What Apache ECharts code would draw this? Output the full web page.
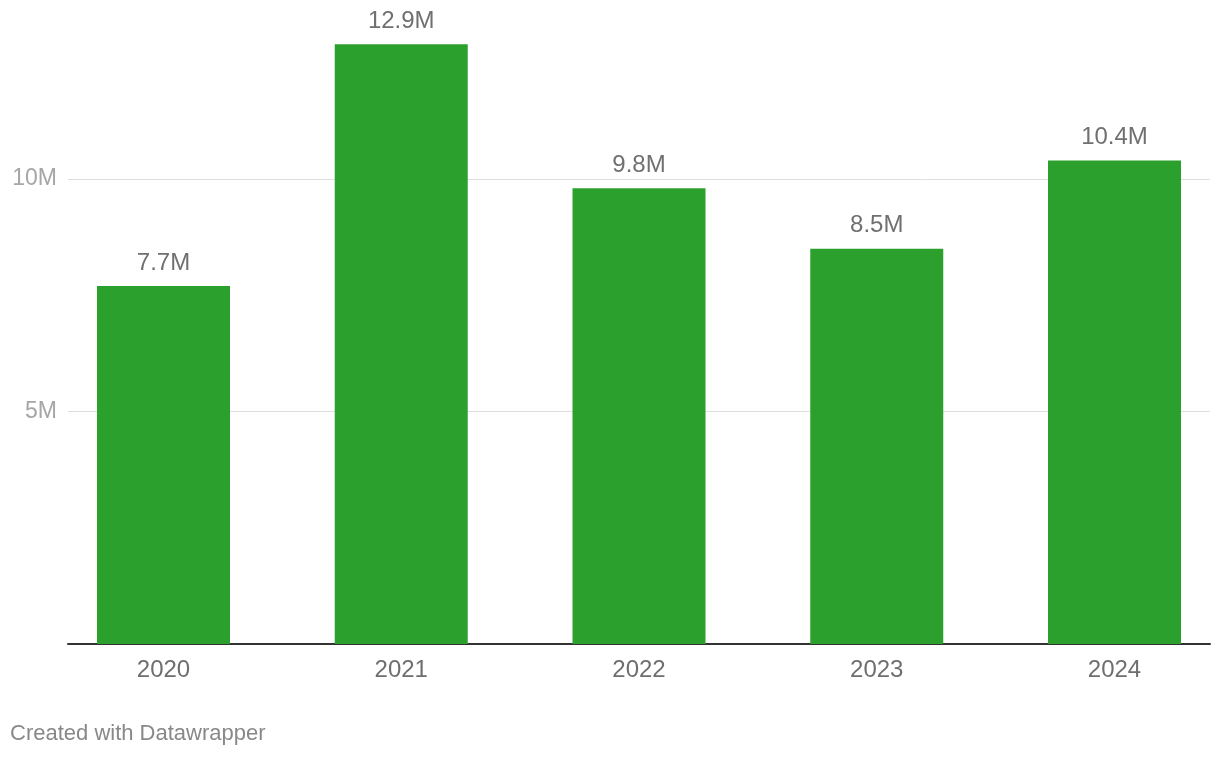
<!DOCTYPE html>
<html>
<head>
<meta charset="utf-8">
<script src="https://cdn.jsdelivr.net/npm/echarts@6/dist/echarts.min.js"></script>
<style>
html,body{margin:0;padding:0;background:#fff;}
#chart{width:1220px;height:758px;}
</style>
</head>
<body>
<div id="chart"></div>
<script>
const categories = ['2020', '2021', '2022', '2023', '2024'];
const values = [7.7, 12.9, 9.8, 8.5, 10.4];
const yTicks = [0, 5, 10];
const footer = 'Created with Datawrapper';

const FONT = '"Liberation Sans", Arial, Helvetica, sans-serif';
const chart = echarts.init(document.getElementById('chart'), null, {renderer: 'canvas'});

const yMax = 13;
const plotBottom = 114;
const pxPerUnit = 46.5;
const gridTop = 758 - plotBottom - yMax * pxPerUnit;

chart.setOption({
  backgroundColor: '#fff',
  animation: false,
  grid: [
    {left: 68, right: 10, top: gridTop, bottom: plotBottom, containLabel: false},
    {left: 163.5, right: 105.5, top: gridTop, bottom: plotBottom, containLabel: false}
  ],
  xAxis: [
    {
      gridIndex: 0, type: 'category', data: categories,
      axisLine: {show: true, lineStyle: {color: '#333', width: 2}},
      axisTick: {show: false}, axisLabel: {show: false}, splitLine: {show: false}
    },
    {
      gridIndex: 1, type: 'category', data: categories, boundaryGap: false,
      axisLine: {show: false}, axisTick: {show: false}, splitLine: {show: false},
      axisLabel: {show: true, color: '#6e6e6e', fontSize: 24, fontFamily: FONT, margin: 14}
    }
  ],
  yAxis: [
    {
      gridIndex: 0, type: 'value', min: 0, max: yMax, interval: 5,
      axisLine: {show: false}, axisTick: {show: false},
      axisLabel: {
        show: true, color: '#a6a6a6', fontSize: 23, fontFamily: FONT, margin: 11,
        showMaxLabel: false,
        formatter: v => (yTicks.includes(v) && v !== 0) ? v + 'M' : ''
      },
      splitLine: {show: true, showMaxLine: false, lineStyle: {color: '#dedede', width: 1}}
    },
    {
      gridIndex: 1, type: 'value', min: 0, max: yMax, interval: 5,
      axisLine: {show: false}, axisTick: {show: false}, axisLabel: {show: false},
      splitLine: {show: false}
    }
  ],
  series: [
    {
      type: 'bar', xAxisIndex: 1, yAxisIndex: 1, data: values,
      barWidth: 133,
      itemStyle: {color: '#2ca02c'},
      z: 3,
      label: {
        show: true, position: 'top', distance: 11,
        color: '#707070', fontSize: 24, fontFamily: FONT,
        formatter: p => p.value + 'M'
      }
    }
  ],
  graphic: [
    {
      type: 'text', left: 10, top: 723,
      style: {text: footer, fill: '#888', font: '22px ' + FONT}
    }
  ]
});
</script>
</body>
</html>
